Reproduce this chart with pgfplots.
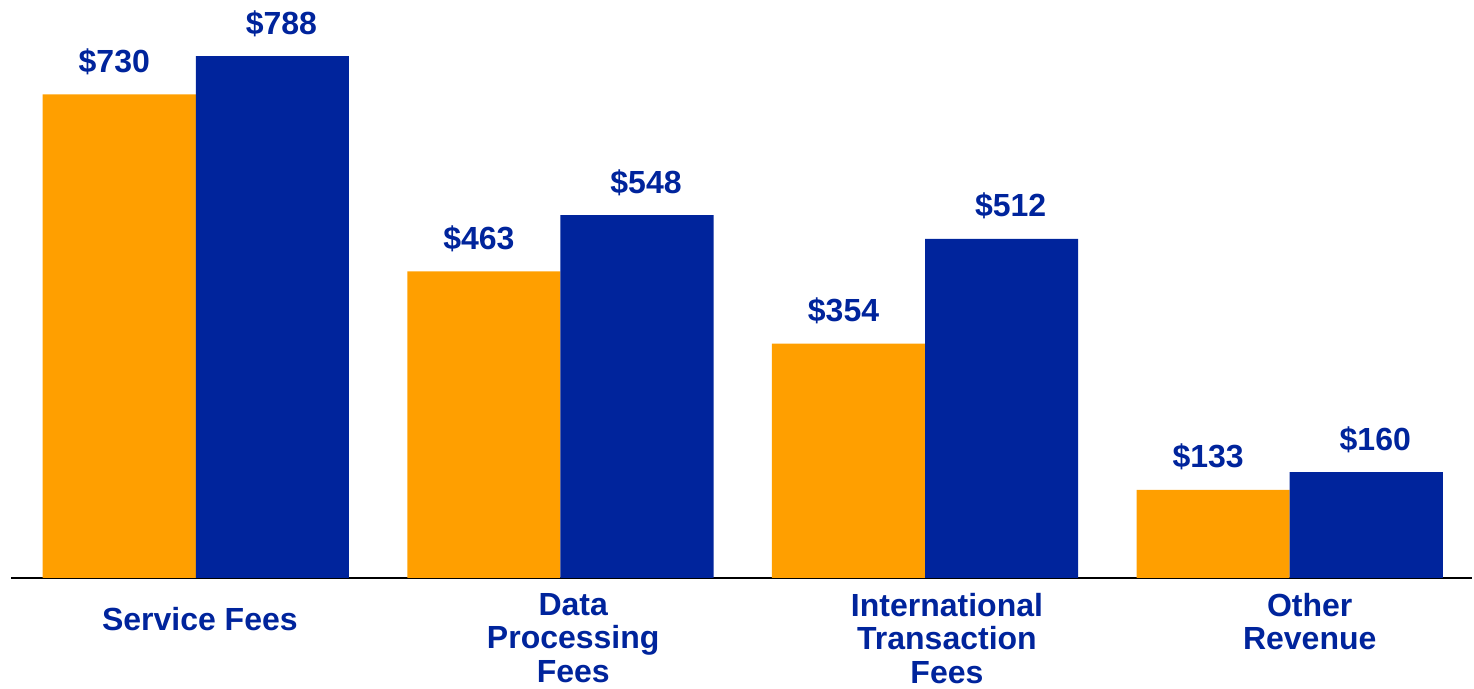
\documentclass[border=0pt]{standalone}
\usepackage{pgfplots}
\pgfplotsset{compat=1.18}
\usepackage{fontspec}
\setmainfont{Liberation Sans}
\definecolor{orng}{HTML}{FF9F00}
\definecolor{navy}{HTML}{00249C}
\begin{document}
\begin{tikzpicture}
\begin{axis}[
  name=ax,
  scale only axis,
  width=730.5pt, height=289pt,
  xmin=-0.507, xmax=3.5,
  ymin=0, ymax=872.6,
  enlargelimits=false,
  clip=false,
  axis x line=bottom,
  axis y line=none,
  x axis line style={-, black, line width=0.9pt},
  xtick={0.011,1.035,2.06,3.055},
  major tick length=0pt,
  xticklabels={{\rule{0pt}{18.7pt}Service Fees},{Data\\Processing\\Fees},{International\\Transaction\\Fees},{Other\\Revenue}},
  xticklabel style={anchor=north, inner sep=0pt, yshift=-7.5pt, align=center,
    font=\fontsize{16}{16.7}\selectfont\bfseries, text=navy},
  ytick=\empty,
  ybar,
  bar width=0.42,
  point meta=explicit symbolic,
  nodes near coords,
  nodes near coords style={anchor=base, inner sep=0pt, yshift=11pt,
    font=\fontsize{16}{19}\selectfont\bfseries, text=navy},
]
\addplot[fill=orng, draw=none, bar shift=-0.21,
  every node near coord/.append style={xshift=-2.5pt}] coordinates {
  (0,730) [\$730]
  (1,463) [\$463]
  (2,354) [\$354]
  (3,133) [\$133]
};
\addplot[fill=navy, draw=none, bar shift=0.21,
  every node near coord/.append style={xshift=4.5pt}] coordinates {
  (0,788) [\$788]
  (1,548) [\$548]
  (2,512) [\$512]
  (3,160) [\$160]
};
\end{axis}
\pgfresetboundingbox
\path (ax.south west) ++(-5.5pt,-55.5pt) rectangle ([shift={(1pt,0pt)}]ax.north east);
\end{tikzpicture}
\end{document}
